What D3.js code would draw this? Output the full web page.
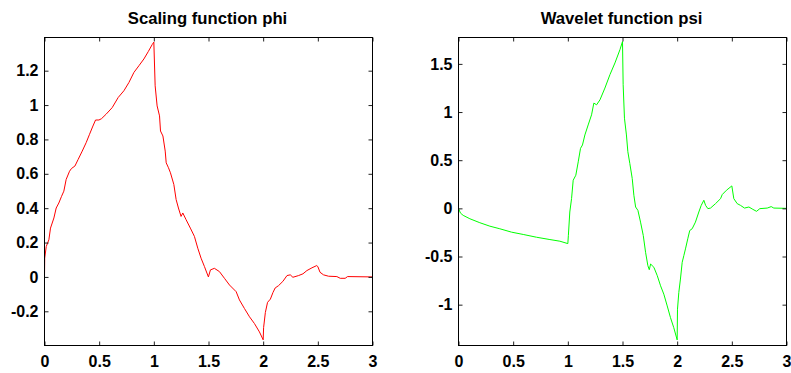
<!DOCTYPE html>
<html>
<head>
<meta charset="utf-8">
<script src="https://cdn.jsdelivr.net/npm/d3@7"></script>
<style>
	html, body { margin: 0; padding: 0; background: #fff; }
	svg { display: block; }
	.title, .tick text { font-family: 'Liberation Sans', Arial, Helvetica, sans-serif; font-weight: bold; }
</style>
</head>
<body>
<svg id="chart" width="791" height="373"></svg>
<script>
// values, [x, y]
const phiPoints = [
	[0, 0], [0.002, 0.109], [0.016, 0.177], [0.04, 0.216], [0.055, 0.284], [0.086, 0.343],
	[0.107, 0.401], [0.131, 0.43], [0.156, 0.469], [0.177, 0.499], [0.198, 0.567], [0.229, 0.615],
	[0.247, 0.631], [0.278, 0.645], [0.308, 0.684], [0.345, 0.732], [0.381, 0.781], [0.412, 0.83],
	[0.443, 0.878], [0.467, 0.913], [0.498, 0.913], [0.522, 0.921], [0.564, 0.947], [0.619, 0.985],
	[0.674, 1.044], [0.726, 1.083], [0.772, 1.131], [0.818, 1.19], [0.864, 1.229], [0.909, 1.268],
	[0.949, 1.311], [0.985, 1.352], [1.0, 1.366],
	[1.012, 1.112], [1.03, 0.995], [1.052, 0.937], [1.061, 0.849], [1.083, 0.82], [1.104, 0.732],
	[1.113, 0.664], [1.134, 0.635], [1.152, 0.606], [1.183, 0.538], [1.204, 0.45], [1.225, 0.401],
	[1.249, 0.352], [1.265, 0.372], [1.295, 0.333], [1.334, 0.284], [1.371, 0.236], [1.402, 0.167],
	[1.432, 0.109], [1.463, 0.06], [1.499, 0.0], [1.518, 0.041], [1.554, 0.05], [1.6, 0.031],
	[1.646, -0.008], [1.692, -0.047], [1.753, -0.086], [1.783, -0.134], [1.829, -0.184],
	[1.875, -0.232], [1.92, -0.271], [1.966, -0.32], [2.0, -0.366],
	[2.004, -0.295], [2.02, -0.207], [2.04, -0.148], [2.066, -0.129], [2.09, -0.09], [2.11, -0.064],
	[2.14, -0.051], [2.18, -0.026], [2.218, 0.008], [2.248, 0.012], [2.272, -0.002], [2.324, 0.008],
	[2.364, 0.018], [2.4, 0.037], [2.446, 0.053], [2.49, 0.066], [2.5, 0.06], [2.52, 0.027],
	[2.552, 0.012], [2.598, 0.004], [2.674, 0.002], [2.705, -0.008], [2.75, -0.008], [2.772, 0.002],
	[3, 0]
];

const psiPoints = [
	[0, 0], [0.018, -0.049], [0.043, -0.073], [0.104, -0.108], [0.195, -0.149], [0.287, -0.185],
	[0.378, -0.212], [0.485, -0.247], [0.592, -0.271], [0.714, -0.3], [0.836, -0.324],
	[0.927, -0.341], [1.0, -0.366],
	[1.005, -0.28], [1.018, -0.038], [1.034, 0.101], [1.049, 0.292], [1.073, 0.344], [1.095, 0.483],
	[1.116, 0.623], [1.134, 0.658], [1.156, 0.762], [1.186, 0.866], [1.217, 0.971], [1.238, 1.093],
	[1.263, 1.075], [1.294, 1.127], [1.339, 1.249], [1.385, 1.388], [1.431, 1.51], [1.477, 1.649],
	[1.5, 1.732],
	[1.506, 1.284], [1.518, 0.936], [1.536, 0.762], [1.549, 0.588], [1.567, 0.466], [1.589, 0.31],
	[1.604, 0.136], [1.62, 0.014], [1.641, -0.021], [1.665, -0.143], [1.69, -0.282], [1.711, -0.456],
	[1.732, -0.595], [1.745, -0.637], [1.757, -0.578], [1.787, -0.612], [1.818, -0.699],
	[1.848, -0.804], [1.878, -0.891], [1.909, -1.013], [1.939, -1.135], [1.969, -1.239],
	[2.0, -1.366],
	[2.003, -1.047], [2.015, -0.874], [2.03, -0.734], [2.046, -0.56], [2.061, -0.491], [2.076, -0.421],
	[2.097, -0.316], [2.115, -0.23], [2.137, -0.212], [2.167, -0.143], [2.198, -0.038], [2.22, 0.031],
	[2.244, 0.084], [2.26, 0.031], [2.281, -0.003], [2.305, 0.003], [2.351, 0.049], [2.397, 0.101],
	[2.412, 0.143], [2.451, 0.188], [2.5, 0.233], [2.518, 0.101], [2.549, 0.049], [2.579, 0.031],
	[2.616, 0.003], [2.656, 0.014], [2.692, -0.01], [2.726, -0.031], [2.756, -0.003], [2.824, 0.003],
	[2.86, 0.018], [2.884, 0.003], [3, 0]
];

const xTicks = [0, 0.5, 1, 1.5, 2, 2.5, 3];
const phiTicks = [-0.2, 0, 0.2, 0.4, 0.6, 0.8, 1, 1.2];
const psiTicks = [-1, -0.5, 0, 0.5, 1, 1.5];

const panels = [
	{ title: 'Scaling function phi', points: phiPoints, yTicks: phiTicks, yDomain: [-0.399, 1.393], color: '#ff0000', left: 44.5 },
	{ title: 'Wavelet function psi', points: psiPoints, yTicks: psiTicks, yDomain: [-1.424, 1.774], color: '#00ff00', left: 458.5 },
];

const plotW = 328;
const plotTop = 37.5;
const plotBottom = 345.5;
const tickLen = 4;

const svg = d3.select('#chart');

panels.forEach((p) => {
	const x = d3.scaleLinear().domain([0, 3]).range([p.left, p.left + plotW]);
	const y = d3.scaleLinear().domain(p.yDomain).range([plotBottom, plotTop]);
	const g = svg.append('g');

	// curve
	g.append('path')
		.datum(p.points)
		.attr('fill', 'none')
		.attr('stroke', p.color)
		.attr('stroke-width', 1)
		.attr('d', d3.line().x((d) => x(d[0])).y((d) => y(d[1])));

	const fmt = (v) => String(v);

	// ticks pointing inward on all four sides
	const axes = [
		{ gen: d3.axisBottom(x).tickValues(xTicks).tickFormat(fmt).tickPadding(10), at: `translate(0,${plotBottom})` },
		{ gen: d3.axisTop(x).tickValues(xTicks).tickFormat(''), at: `translate(0,${plotTop})` },
		{ gen: d3.axisLeft(y).tickValues(p.yTicks).tickFormat(fmt).tickPadding(6), at: `translate(${p.left},0)` },
		{ gen: d3.axisRight(y).tickValues(p.yTicks).tickFormat(''), at: `translate(${p.left + plotW},0)` },
	];
	axes.forEach((a) => {
		const ax = g.append('g').attr('transform', a.at).call(a.gen.tickSizeInner(-tickLen).tickSizeOuter(0));
		ax.select('.domain').remove();
		ax.selectAll('line').attr('stroke', '#222');
		ax.selectAll('text').attr('fill', '#000').style('font-size', '16px');
	});

	// box
	g.append('rect')
		.attr('x', p.left)
		.attr('y', plotTop)
		.attr('width', plotW)
		.attr('height', plotBottom - plotTop)
		.attr('fill', 'none')
		.attr('stroke', '#000')
		.attr('stroke-width', 1);

	g.append('text')
		.attr('class', 'title')
		.attr('x', p.left + plotW / 2 - 1)
		.attr('y', 24)
		.attr('text-anchor', 'middle')
		.style('font-size', '16.7px')
		.text(p.title);
});
</script>
</body>
</html>
